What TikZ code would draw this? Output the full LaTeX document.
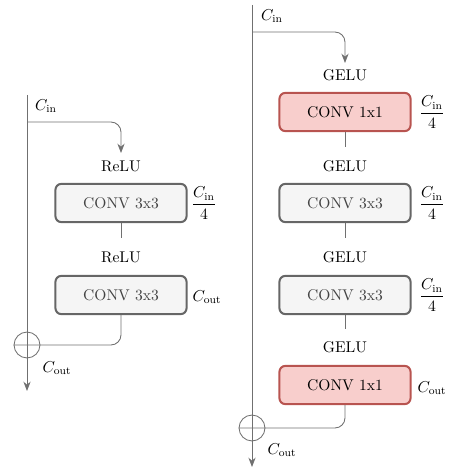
\documentclass[tikz,border=0pt]{standalone}
\usetikzlibrary{arrows.meta}
\usepackage{amsmath}
\definecolor{lineg}{HTML}{707070}
\definecolor{boxg}{HTML}{666666}
\definecolor{fillg}{HTML}{F5F5F5}
\definecolor{txtg}{HTML}{444444}
\definecolor{redb}{HTML}{B85450}
\definecolor{redf}{HTML}{F8CECC}
\tikzset{
  conn/.style={draw=lineg, line width=0.6pt},
  arr/.style={conn, -{Stealth[length=6.5pt,width=5pt]}},
  graybox/.style={draw=boxg, fill=fillg, line width=1.4pt, rounded corners=4pt,
    minimum width=91pt, minimum height=26.5pt, text=txtg},
  redbox/.style={draw=redb, fill=redf, line width=1.4pt, rounded corners=4pt,
    minimum width=91pt, minimum height=26.5pt, text=black},
  sumc/.style={circle, draw=lineg, line width=0.6pt, minimum size=18pt, inner sep=0pt},
  lab/.style={inner sep=1pt}
}
\begin{document}
\begin{tikzpicture}[x=0.6944pt, y=-0.6944pt, every node/.style={font=\fontsize{10.8}{13}\selectfont}]
\useasboundingbox (0,0) rectangle (449,467);
% ---------- left block ----------
\coordinate (Ltop) at (27,95);
\coordinate (Lbr) at (27,122);
\coordinate (Lend) at (27,391);
\coordinate (Larr) at (121,153);
\node[sumc] (Lsum) at (27,345) {};
\node[graybox] (L1) at (121,203) {CONV 3x3};
\node[graybox] (L2) at (121,295) {CONV 3x3};
\node[lab] (Lr1) at (121,166) {ReLU};
\node[lab] (Lr2) at (121,257) {ReLU};
\coordinate (Lc1) at (121,238);
\draw[arr] (Ltop) -- (Lend);
\draw[arr, rounded corners=7pt] (Lbr) -| (Larr);
\draw[conn] (L1.south) -- (Lc1);
\draw[conn, rounded corners=7pt] (L2.south) |- (Lsum.west);
\node[lab] (Lci) at (46,106) {$C_{\text{in}}$};
\node[lab] (Lf1) at (204,203) {$\dfrac{C_{\text{in}}}{4}$};
\node[lab] (Lo2) at (207,297) {$C_{\text{out}}$};
\node[lab] (Lout) at (57,368) {$C_{\text{out}}$};
% ---------- right block ----------
\coordinate (Rtop) at (252,5);
\coordinate (Rbr) at (252,32);
\coordinate (Rend) at (252,467);
\coordinate (Rarr) at (345,63);
\node[sumc] (Rsum) at (252,428) {};
\node[redbox] (R1) at (345,112) {CONV 1x1};
\node[graybox] (R2) at (345,203) {CONV 3x3};
\node[graybox] (R3) at (345,295) {CONV 3x3};
\node[redbox] (R4) at (345,385) {CONV 1x1};
\node[lab] (Rg1) at (345,75) {GELU};
\node[lab] (Rg2) at (345,166) {GELU};
\node[lab] (Rg3) at (345,257) {GELU};
\node[lab] (Rg4) at (345,347) {GELU};
\coordinate (Rc1) at (345,147);
\coordinate (Rc2) at (345,238);
\coordinate (Rc3) at (345,329);
\draw[arr] (Rtop) -- (Rend);
\draw[arr, rounded corners=7pt] (Rbr) -| (Rarr);
\draw[conn] (R1.south) -- (Rc1);
\draw[conn] (R2.south) -- (Rc2);
\draw[conn] (R3.south) -- (Rc3);
\draw[conn, rounded corners=7pt] (R4.south) |- (Rsum.west);
\node[lab] (Rci) at (272,16) {$C_{\text{in}}$};
\node[lab] (Rf1) at (432,112) {$\dfrac{C_{\text{in}}}{4}$};
\node[lab] (Rf2) at (432,203) {$\dfrac{C_{\text{in}}}{4}$};
\node[lab] (Rf3) at (432,295) {$\dfrac{C_{\text{in}}}{4}$};
\node[lab] (Ro4) at (432,388) {$C_{\text{out}}$};
\node[lab] (Rout) at (282,450) {$C_{\text{out}}$};
\end{tikzpicture}
\end{document}
